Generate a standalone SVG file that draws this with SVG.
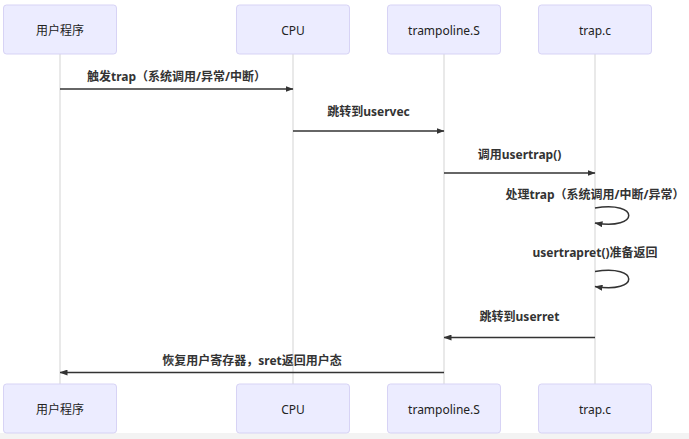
<svg xmlns="http://www.w3.org/2000/svg" width="689" height="439" viewBox="0 0 689 439">
<style>
.actor{fill:#ECECFF;stroke:#D7D3F5;stroke-width:1}
.atext{font-family:"Noto Sans","Noto Sans CJK SC",sans-serif;font-size:12px;fill:#222;text-anchor:middle}
.life{stroke:#E2E2E2;stroke-width:1.5}
.msg{stroke:#333;stroke-width:1.5;fill:none}
.mtext{font-family:"Noto Sans","Noto Sans CJK SC",sans-serif;font-size:12px;font-weight:bold;fill:#333;text-anchor:middle}
</style>
<defs>
<marker id="ah" markerWidth="8" markerHeight="6" refX="7.5" refY="3" orient="auto" markerUnits="userSpaceOnUse">
<path d="M0,0 L8,3 L0,6 Z" fill="#333"/>
</marker>
</defs>
<rect x="0" y="0" width="689" height="439" fill="#fff"/>
<rect x="0" y="433" width="689" height="6" fill="#F3F3F3"/>
<g id="lifelines">
<line class="life" x1="60" y1="54" x2="60" y2="384"/>
<line class="life" x1="293" y1="54" x2="293" y2="384"/>
<line class="life" x1="444" y1="54" x2="444" y2="384"/>
<line class="life" x1="595" y1="54" x2="595" y2="384"/>
</g>
<g id="actor-user">
<rect class="actor" x="3.5" y="5" width="113" height="49" rx="3"/>
<text class="atext" x="60" y="34.5">用户程序</text>
<rect class="actor" x="3.5" y="384" width="113" height="49" rx="3"/>
<text class="atext" x="60" y="413.5">用户程序</text>
</g>
<g id="actor-cpu">
<rect class="actor" x="236.5" y="5" width="113" height="49" rx="3"/>
<text class="atext" x="293" y="34.5">CPU</text>
<rect class="actor" x="236.5" y="384" width="113" height="49" rx="3"/>
<text class="atext" x="293" y="413.5">CPU</text>
</g>
<g id="actor-trampoline">
<rect class="actor" x="387.5" y="5" width="113" height="49" rx="3"/>
<text class="atext" x="444" y="34.5">trampoline.S</text>
<rect class="actor" x="387.5" y="384" width="113" height="49" rx="3"/>
<text class="atext" x="444" y="413.5">trampoline.S</text>
</g>
<g id="actor-trapc">
<rect class="actor" x="538.5" y="5" width="113" height="49" rx="3"/>
<text class="atext" x="595" y="34.5">trap.c</text>
<rect class="actor" x="538.5" y="384" width="113" height="49" rx="3"/>
<text class="atext" x="595" y="413.5">trap.c</text>
</g>
<g id="connectors">
<line class="msg" x1="60" y1="89" x2="293" y2="89" marker-end="url(#ah)"/>
<text class="mtext" x="176.5" y="80.5">触发trap（系统调用/异常/中断）</text>
<line class="msg" x1="293" y1="131" x2="444" y2="131" marker-end="url(#ah)"/>
<text class="mtext" x="368.5" y="116">跳转到uservec</text>
<line class="msg" x1="444" y1="173" x2="595" y2="173" marker-end="url(#ah)"/>
<text class="mtext" x="519.5" y="159">调用usertrap()</text>
<path class="msg" d="M595,208 C640,200.5 640,230.5 595,223" marker-end="url(#ah)"/>
<text class="mtext" x="595" y="199">处理trap（系统调用/中断/异常）</text>
<path class="msg" d="M595,271.5 C640,264 640,294 595,286.5" marker-end="url(#ah)"/>
<text class="mtext" x="595" y="257">usertrapret()准备返回</text>
<line class="msg" x1="595" y1="337.5" x2="444" y2="337.5" marker-end="url(#ah)"/>
<text class="mtext" x="519.5" y="321">跳转到userret</text>
<line class="msg" x1="444" y1="372.5" x2="60" y2="372.5" marker-end="url(#ah)"/>
<text class="mtext" x="252" y="365">恢复用户寄存器，sret返回用户态</text>
</g>
</svg>
